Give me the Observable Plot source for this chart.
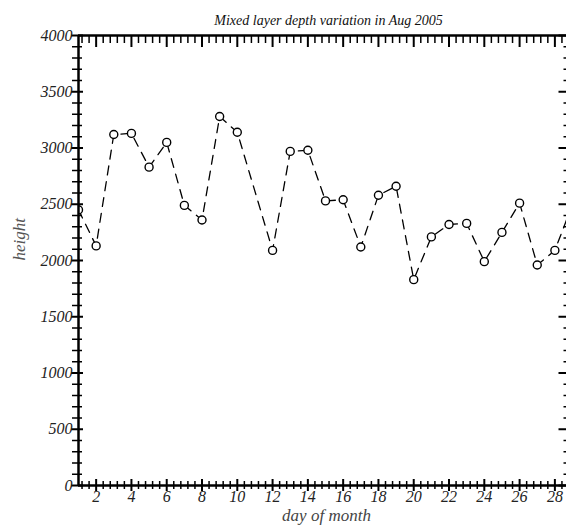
<!DOCTYPE html>
<html>
<head>
<meta charset="utf-8">
<script src="https://cdn.jsdelivr.net/npm/d3@7"></script>
<script src="https://cdn.jsdelivr.net/npm/@observablehq/plot@0.6"></script>
<style>
  html, body { margin: 0; padding: 0; background: #fff; }
</style>
</head>
<body>
<div id="chart"></div>
<script>
const title = "Mixed layer depth variation in Aug 2005";
const xLabel = "day of month";
const yLabel = "height";
const days = [1, 2, 3, 4, 5, 6, 7, 8, 9, 10, 12, 13, 14, 15, 16, 17, 18, 19, 20, 21, 22, 23, 24, 25, 26, 27, 28, 29];
const depth = [2450, 2130, 3120, 3130, 2830, 3050, 2490, 2360, 3280, 3140, 2090, 2970, 2980, 2530, 2540, 2120, 2580, 2660, 1830, 2210, 2320, 2330, 1990, 2250, 2510, 1960, 2090, 2500];
const xTickLabels = [2, 4, 6, 8, 10, 12, 14, 16, 18, 20, 22, 24, 26, 28];
const yTickLabels = [0, 500, 1000, 1500, 2000, 2500, 3000, 3500, 4000];

const data = days.map((d, i) => ({day: d, depth: depth[i]}));

const xDomain = [1, 28.8];
const yDomain = [0, 4000];
const xAll = d3.range(-2, 67).map(k => ({v: 2 + k * 0.4, major: k % 5 === 0}));
const xMajor = xAll.filter(d => d.major).map(d => d.v);
const xMinor = xAll.filter(d => !d.major).map(d => d.v);
const yMajor = yTickLabels;
const yMinor = d3.range(0, 4001, 100).filter(v => v % 500 !== 0);

const ink = "#000";
const chart = Plot.plot({
  width: 566,
  height: 532,
  marginTop: 35,
  marginBottom: 47,
  marginLeft: 78,
  marginRight: 0,
  style: {fontFamily: "'Liberation Serif', serif", fontStyle: "italic", fontSize: "15px", background: "#fff", color: "#222"},
  x: {domain: xDomain, range: [78, 568.5], label: null},
  y: {domain: yDomain, label: null},
  marks: [
    // data
    Plot.line(data, {x: "day", y: "depth", stroke: ink, strokeWidth: 1.3, strokeDasharray: "9,7", clip: true}),
    Plot.dot(data, {x: "day", y: "depth", r: 4, stroke: ink, fill: "white", strokeWidth: 1.4, clip: true}),
    // axis lines
    Plot.ruleY([0], {stroke: ink, strokeWidth: 2.5}),
    Plot.ruleY([4000], {stroke: ink, strokeWidth: 2.5}),
    Plot.ruleX([1], {stroke: ink, strokeWidth: 2.5}),
    // bottom ticks (crossing)
    Plot.ruleX(xMajor, {x: d => d, y1: 0, y2: 0, insetTop: -6, insetBottom: -6, stroke: ink, strokeWidth: 2}),
    Plot.ruleX(xMinor, {x: d => d, y1: 0, y2: 0, insetTop: -4, insetBottom: -4, stroke: ink, strokeWidth: 1.5}),
    // top ticks (inward)
    Plot.ruleX(xMajor, {x: d => d, y1: 4000, y2: 4000, insetTop: 0, insetBottom: -12, stroke: ink, strokeWidth: 2}),
    Plot.ruleX(xMinor, {x: d => d, y1: 4000, y2: 4000, insetTop: 0, insetBottom: -8, stroke: ink, strokeWidth: 1.5}),
    // left ticks (crossing)
    Plot.ruleY(yMajor, {y: d => d, x1: 1, x2: 1, insetLeft: -7, insetRight: -5, stroke: ink, strokeWidth: 2}),
    Plot.ruleY(yMinor, {y: d => d, x1: 1, x2: 1, insetLeft: -6, insetRight: -4, stroke: ink, strokeWidth: 1.5}),
    // right ticks (inward)
    Plot.ruleY(yMajor, {y: d => d, x1: 28.8, x2: 28.8, insetLeft: -10, insetRight: 0, stroke: ink, strokeWidth: 2}),
    Plot.ruleY(yMinor, {y: d => d, x1: 28.8, x2: 28.8, insetLeft: -5, insetRight: 0, stroke: ink, strokeWidth: 1.5}),
    // tick labels
    Plot.axisX(xTickLabels, {anchor: "bottom", tickSize: 0, tickPadding: 5, fontSize: 16, fill: "#222", label: null, tickFormat: d => String(d)}),
    Plot.axisY(yTickLabels, {anchor: "left", tickSize: 0, tickPadding: 6, fontSize: 16, fill: "#222", label: null, tickFormat: d => String(d)}),
    // titles
    Plot.text([title], {frameAnchor: "top", dy: -20, dx: 6, fontSize: 14, fill: "#111"}),
    Plot.text([xLabel], {frameAnchor: "bottom", dy: 35, dx: 4, fontSize: 17, fill: "#444"}),
    Plot.text([yLabel], {frameAnchor: "left", dx: -59, rotate: -90, fontSize: 17, fill: "#555"})
  ]
});
document.getElementById("chart").append(chart);
</script>
</body>
</html>
